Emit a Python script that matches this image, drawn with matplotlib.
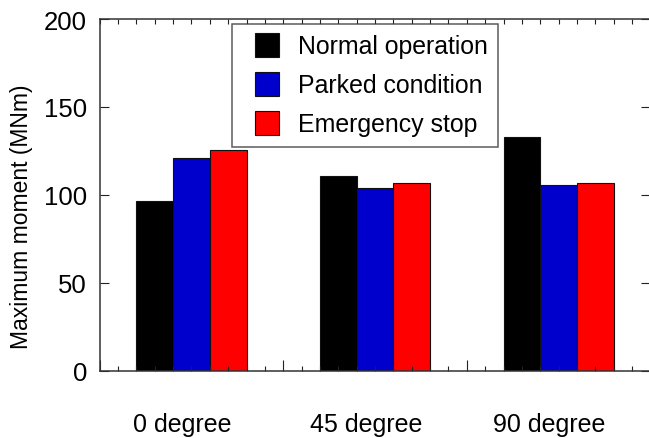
import numpy as np
import matplotlib
matplotlib.use("Agg")
import matplotlib.pyplot as plt
from matplotlib.lines import Line2D
from matplotlib.ticker import MultipleLocator

plt.rcParams['font.family'] = ['Liberation Sans', 'DejaVu Sans']

# data
categories = ['0 degree', '45 degree', '90 degree']
normal_op = [96.4, 110.5, 133.1]
parked = [121.1, 103.9, 105.6]
emergency = [125.5, 106.7, 106.9]
series_names = ['Normal operation', 'Parked condition', 'Emergency stop']
colors = ['#000000', '#0000CC', '#FF0000']

fig = plt.figure(figsize=(6.49, 4.39), dpi=100)
ax = fig.add_axes([0.1535, 0.1533, 1.0022 - 0.1535, 0.9544 - 0.1533])

x = np.arange(len(categories)) + 0.5
w = 0.2
for i, vals in enumerate([normal_op, parked, emergency]):
    ax.bar(x + (i - 1) * w, vals, w, color=colors[i], edgecolor='#111111',
           linewidth=0.8, label=series_names[i])

ax.set_xlim(0, 3)
ax.set_ylim(0, 200)
ax.xaxis.set_major_locator(MultipleLocator(1))
ax.xaxis.set_minor_locator(MultipleLocator(0.1))
ax.yaxis.set_major_locator(MultipleLocator(50))
ax.tick_params(axis='x', which='major', direction='in', length=7.7, width=0.8,
               labelbottom=False, color='#222222')
ax.tick_params(axis='x', which='minor', direction='in', length=3.9, width=0.8,
               color='#222222')
ax.tick_params(axis='y', which='major', direction='in', length=6.5, width=0.8,
               right=True, labelsize=18.5, pad=9.0, color='#222222')

top = ax.secondary_xaxis('top')
top.set_xticks(np.arange(0, 3.001, 0.1))
top.tick_params(direction='in', length=3.6, width=0.8, labeltop=False,
                color='#222222')
top.spines['top'].set_visible(False)

for s in ax.spines.values():
    s.set_color('#333333')
    s.set_linewidth(1.1)

for xi, name in zip(x, categories):
    ax.text(xi - 0.05, -0.1706, name, transform=ax.get_xaxis_transform(),
            ha='center', va='baseline', fontsize=18)

ax.set_ylabel('Maximum moment (MNm)', fontsize=16.5)
ax.yaxis.set_label_coords(-0.121, 0.44)

handles = [Line2D([], [], linestyle='none', marker='s', markersize=17,
                  markerfacecolor=c, markeredgecolor='#111111',
                  markeredgewidth=0.8) for c in colors]
leg = ax.legend(handles, series_names, loc='upper left',
                bbox_to_anchor=(0.241, 0.986), borderaxespad=0, fontsize=17.9,
                frameon=True, fancybox=False, edgecolor='#333333',
                borderpad=0.42, handlelength=1.98, handletextpad=0.22,
                labelspacing=0.6)
leg.get_frame().set_linewidth(1.1)

fig.savefig('out.png', dpi=100)
